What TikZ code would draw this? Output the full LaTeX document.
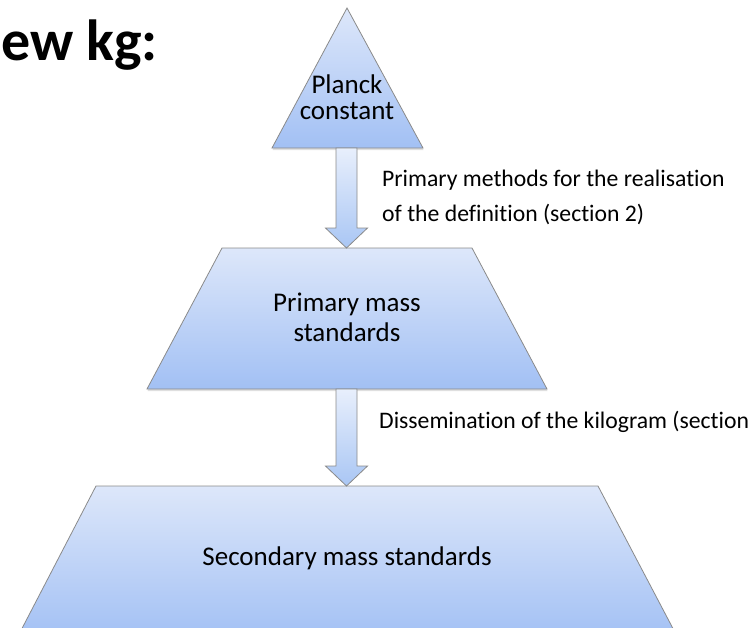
\documentclass[tikz,border=0pt]{standalone}
\usepackage{fontspec}
\setmainfont[Ligatures=NoCommon]{Carlito}
\usetikzlibrary{calc, shadows}
\definecolor{tiertop}{HTML}{DDE7FA}
\definecolor{tierbottom}{HTML}{A2C0F4}
\definecolor{edgegray}{HTML}{8A8A8A}
\definecolor{arrowtop}{HTML}{E8EFFC}
\definecolor{arrowbottom}{HTML}{A9C6F4}

% block arrow from the base of one tier to the top of the next
\newcommand{\blockarrow}[2]{%
  \draw[flowarrow]
    ($(#1)+(-10.5,0)$) -- ($(#2)+(-10.5,-20)$) -- ($(#2)+(-21,-20)$) -- (#2)
    -- ($(#2)+(21,-20)$) -- ($(#2)+(10.5,-20)$) -- ($(#1)+(10.5,0)$) -- cycle;}

\begin{document}
\begin{tikzpicture}[x=1pt, y=-1pt, every node/.style={font=\fontsize{27}{30}\selectfont}]

\tikzset{
  tier/.style={draw=edgegray, line width=0.8pt, top color=tiertop, bottom color=tierbottom,
    drop shadow={opacity=0.25, shadow xshift=0.5pt, shadow yshift=-2pt}},
  flowarrow/.style={draw=edgegray, line width=0.8pt, top color=arrowtop, bottom color=arrowbottom},
  tierlabel/.style={align=center, inner sep=0pt},
  sidenote/.style={align=left, inner sep=0pt, font=\fontsize{23.7}{35}\selectfont},
}

\useasboundingbox (0,0) rectangle (755,627);
\clip (0,0) rectangle (755,627);

% ---- heading ----
\node[inner sep=0pt, anchor=base west, font=\fontsize{58}{58}\selectfont\bfseries]
  (heading) at (1,60) {ew kg:};

% ---- pyramid tiers ----
\draw[tier] (272,148) -- (347,8) -- (423,148) -- cycle;
\draw[tier] (222,248) -- (472,248) -- (547,389) -- (147,389) -- cycle;
\draw[tier] (96,486) -- (598,486) -- (679,640) -- (16,640) -- cycle;

\node[tierlabel, font=\fontsize{27}{26}\selectfont] (planck) at (347,97.5) {Planck\\constant};
\node[tierlabel] (primary) at (347,317) {Primary mass\\standards};
\node[tierlabel, anchor=base] (secondary) at (347,565) {Secondary mass standards};

\coordinate (planck base)   at (346.5,148);
\coordinate (primary top)   at (346.5,248);
\coordinate (primary base)  at (346.5,389);
\coordinate (secondary top) at (346.5,486);

% ---- arrows between tiers ----
\blockarrow{planck base}{primary top}
\blockarrow{primary base}{secondary top}

\node[sidenote, anchor=west] (realise) at (382,197)
  {Primary methods for the realisation\\of the definition (section 2)};
\node[sidenote, anchor=base west] (dissem) at (379,428)
  {Dissemination of the kilogram (section};

\end{tikzpicture}
\end{document}
